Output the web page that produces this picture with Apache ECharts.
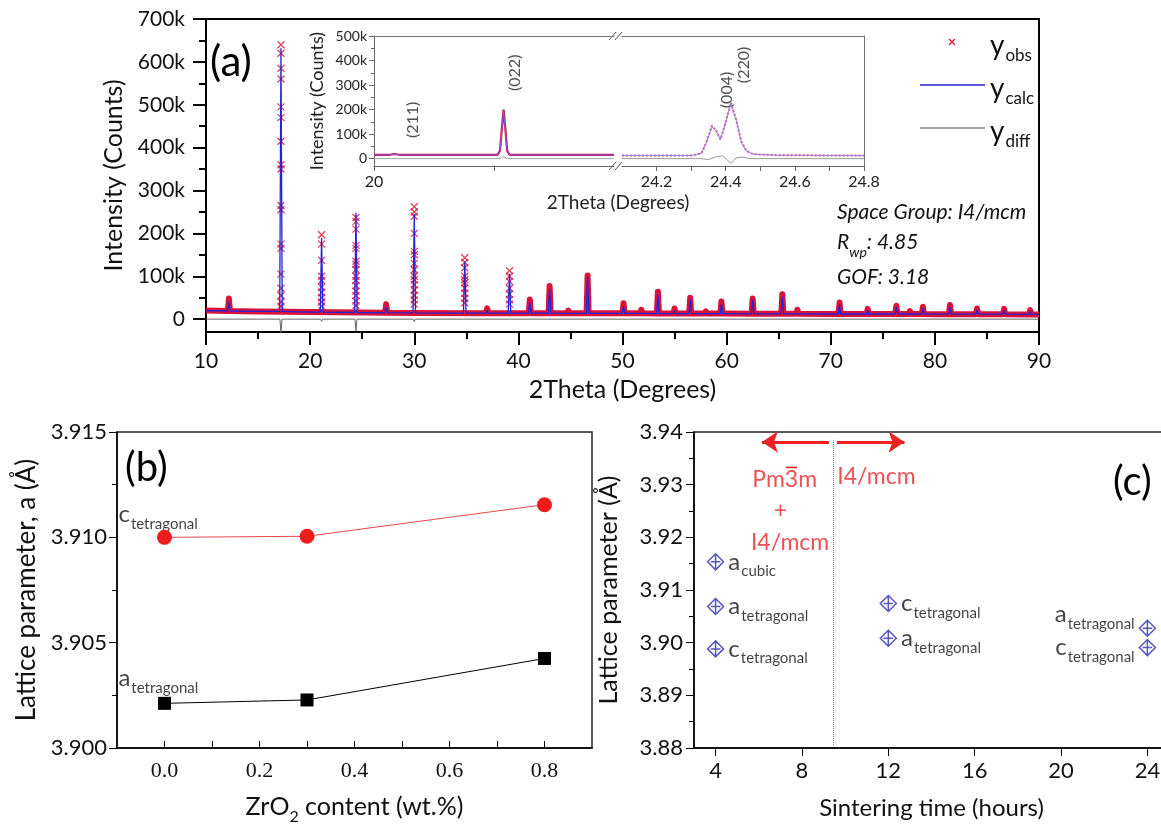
<!DOCTYPE html>
<html><head><meta charset="utf-8">
<script src="https://cdn.jsdelivr.net/npm/echarts@6/dist/echarts.min.js"></script>
<style>html,body{margin:0;padding:0;background:#fff}#c{width:1161px;height:829px}</style>
</head><body><div id="c"></div>
<script>
// ---------------- Panel (a): XRD pattern ----------------
const bgX = [10, 15, 20, 30, 40, 50, 60, 70, 80, 90];
const bgY = [20000, 18000, 16500, 14500, 14000, 13500, 13000, 12000, 11500, 11000];
// small peaks (dense obs band)
const smallPos  = [12.2, 27.3, 37.0, 41.1, 43.0, 44.8, 46.65, 50.1, 51.8, 53.4, 55.0, 56.5, 58.0, 59.5, 62.5, 65.35, 66.8, 70.85, 73.55, 76.3, 77.6, 78.85, 81.45, 84.05, 86.65, 89.15];
const smallTop  = [48000, 35000, 25000, 46000, 77000, 20000, 102000, 37000, 22000, 64000, 25000, 50000, 18000, 41000, 48000, 58000, 22000, 39000, 24000, 31000, 19000, 29000, 33000, 25000, 24000, 21000];
const smallCalc = [40000, 28000, 20000, 40000, 70000, 16000, 98000, 30000, 17000, 58000, 20000, 45000, 15000, 35000, 44000, 52000, 17000, 34000, 20000, 27000, 15000, 25000, 28000, 21000, 20000, 18000];
const smallBase = [19000, 15000, 14000, 14000, 14000, 13500, 13500, 13500, 13500, 13000, 13000, 13000, 13000, 13000, 12500, 12500, 12500, 12000, 12000, 12000, 12000, 12000, 11500, 11500, 11500, 11000];
// strong peaks
const tallPos  = [17.2, 21.1, 24.4, 30.0, 34.85, 39.15];
const tallBase = [18000, 16500, 15500, 14500, 14000, 14000];
const tallCalc = [632000, 190000, 248000, 245000, 135000, 105000];
const tallObs = [
  [640000, 620000, 585000, 560000, 495000, 470000, 415000, 360000, 350000, 265000, 255000, 175000, 165000, 105000, 72000, 55000, 40000, 30000],
  [197000, 175000, 137000, 100000, 90000, 75000, 62000, 50000, 40000, 30000],
  [237000, 228000, 210000, 172000, 165000, 135000, 128000, 115000, 100000, 90000, 78000, 65000, 55000, 42000, 32000],
  [262000, 250000, 240000, 200000, 158000, 150000, 130000, 115000, 100000, 92000, 80000, 68000, 55000, 45000, 35000],
  [143000, 132000, 120000, 100000, 92000, 85000, 72000, 60000, 48000, 38000],
  [113000, 100000, 88000, 72000, 58000, 45000, 35000]
];
// difference curve
const diffPos = [12.2, 17.2, 21.1, 24.4, 30.0, 34.85, 39.15, 46.65, 53.4];
const diffVal = [-3000, -32000, -5000, -28000, -6000, -4000, -3000, -3000, -2000];
const yTicksA = [0, 100000, 200000, 300000, 400000, 500000, 600000, 700000];
const yMinorA = [50000, 150000, 250000, 350000, 450000, 550000, 650000];

// ---------------- Inset ----------------
const inLObs  = [[20.0,15000],[20.12,15000],[20.17,19000],[20.22,15000],[21.03,15000],[21.05,32000],[21.065,120000],[21.08,200000],[21.095,120000],[21.11,32000],[21.13,15000],[22.0,15000]];
const inLCalc = [[20.0,15000],[20.12,15000],[20.17,18000],[20.22,15000],[21.03,15000],[21.05,30000],[21.065,115000],[21.08,195000],[21.095,115000],[21.11,30000],[21.13,15000],[22.0,15000]];
const inLDiff = [[20.0,0],[21.05,0],[21.08,8000],[21.11,0],[22.0,0]];
const inRObs  = [[24.1,12500],[24.30,13000],[24.33,22000],[24.345,70000],[24.36,135000],[24.372,115000],[24.385,78000],[24.398,140000],[24.415,228000],[24.43,160000],[24.445,70000],[24.46,32000],[24.48,18000],[24.55,14000],[24.7,13000],[24.8,12500]];
const inRCalc = [[24.1,12500],[24.30,13000],[24.33,22000],[24.345,68000],[24.36,130000],[24.372,112000],[24.385,80000],[24.398,138000],[24.415,225000],[24.43,158000],[24.445,68000],[24.46,30000],[24.48,18000],[24.55,14000],[24.7,13000],[24.8,12500]];
const inRDiff = [[24.1,0],[24.33,0],[24.35,-4000],[24.37,6000],[24.39,12000],[24.405,-5000],[24.415,-20000],[24.43,3000],[24.45,6000],[24.47,0],[24.8,0]];
const inYTicks = [0, 100000, 200000, 300000, 400000, 500000];
const inYMinor = [50000, 150000, 250000, 350000, 450000];
const inPeakNames = ['(211)', '(022)', '(004)', '(220)'];
const inPeakX = [20.32, 21.17, 24.404, 24.453];
const inPeakY = [158000, 350000, 280000, 382000];

// ---------------- Panel (b) ----------------
const bX = [0.0, 0.3, 0.8];
const bC = [3.9100, 3.91005, 3.91155];
const bA = [3.90212, 3.90228, 3.90425];
const bXTicks = [0, 0.1, 0.2, 0.3, 0.4, 0.5, 0.6, 0.7, 0.8];
const bXLabels = [0, 0.2, 0.4, 0.6, 0.8];

// ---------------- Panel (c) ----------------
const cX = [4, 4, 4, 12, 12, 24, 24];
const cY = [3.91535, 3.90686, 3.89882, 3.90743, 3.90084, 3.90274, 3.89907];
const cMain = ['a', 'a', 'c', 'c', 'a', 'a', 'c'];
const cSub = ['cubic', 'tetragonal', 'tetragonal', 'tetragonal', 'tetragonal', 'tetragonal', 'tetragonal'];
const cXTicks = [4, 8, 12, 16, 20, 24];
const redTxt = ['Pm3m', '+', 'I4/mcm', 'I4/mcm'];
const redX = [7.2, 7.0, 7.45, 11.45];
const redY = [3.931, 3.925, 3.919, 3.9315];

// ---------------- build ----------------
const F = 'Lato, "Open Sans", sans-serif';
const kfmt = v => v === 0 ? '0' : (v / 1000) + 'k';

const bandData = bgX.map((x, i) => [x, bgY[i]]);
smallPos.forEach((p, i) => { bandData.push([p - 0.1, smallBase[i]], [p, smallTop[i]], [p + 0.1, smallBase[i]]); });
bandData.sort((a, b) => a[0] - b[0]);
const calcData = bgX.map((x, i) => [x, bgY[i]]);
smallPos.forEach((p, i) => { calcData.push([p - 0.12, smallBase[i]], [p, smallCalc[i]], [p + 0.12, smallBase[i]]); });
tallPos.forEach((p, i) => { calcData.push([p - 0.12, tallBase[i]], [p, tallCalc[i]], [p + 0.12, tallBase[i]]); });
calcData.sort((a, b) => a[0] - b[0]);
const obsData = [];
tallPos.forEach((p, i) => tallObs[i].forEach(v => obsData.push([p, v])));
const diffData = [[10, 0]];
diffPos.forEach((p, i) => diffData.push([p - 0.1, 0], [p, diffVal[i]], [p + 0.1, 0]));
diffData.push([90, 0]);

const X_PATH = 'path://M0,0L10,10M10,0L0,10';
const DIAMOND = 'path://M0,-10L10,0L0,10L-10,0Z M0,-10L0,10 M-6,0L6,0';
const black = '#111';
const noSplit = { show: false };

function ax(o) { return Object.assign({ type: 'value', splitLine: noSplit, minorSplitLine: noSplit, axisLine: { show: true, onZero: false, lineStyle: { color: '#000', width: 1.5 } } }, o); }

const cRich = {
  m: { fontSize: 24, lineHeight: 24, fontFamily: F, color: '#111', verticalAlign: 'top' },
  s: { fontSize: 15, lineHeight: 15, fontFamily: F, color: '#111', verticalAlign: 'top', padding: [14, 0, 0, 1] }
};
const legRich = {
  m: { fontSize: 28, lineHeight: 28, fontFamily: F, fill: '#111', verticalAlign: 'top' },
  s: { fontSize: 17, lineHeight: 17, fontFamily: F, fill: '#111', verticalAlign: 'top', padding: [15, 0, 0, 1] }
};
const itRich = {
  m: { fontSize: 21, lineHeight: 21, fontFamily: F, fontStyle: 'italic', fill: '#111', verticalAlign: 'top' },
  s: { fontSize: 14, lineHeight: 14, fontFamily: F, fontStyle: 'italic', fill: '#111', verticalAlign: 'top', padding: [13, 0, 0, 0] }
};
const arrowStyle = { color: '#ee2222', width: 3, type: 'solid' };

const option = {
  animation: false,
  backgroundColor: '#fff',
  grid: [
    { left: 206, top: 19, width: 833, height: 313, show: true, borderColor: '#000', borderWidth: 2, outerBoundsMode: 'none' },
    { left: 374, top: 36, width: 240, height: 130, outerBoundsMode: 'none' },
    { left: 622, top: 36, width: 242, height: 130, outerBoundsMode: 'none' },
    { left: 117, top: 432, width: 475, height: 316, show: true, borderColor: '#222', borderWidth: 1.5, outerBoundsMode: 'none' },
    { left: 694, top: 432, width: 475, height: 316, show: true, borderColor: '#222', borderWidth: 1.5, outerBoundsMode: 'none' }
  ],
  xAxis: [
    ax({ gridIndex: 0, min: 10, max: 90, interval: 10,
      axisLine: { show: true, onZero: false, lineStyle: { color: '#000', width: 2 } },
      axisTick: { show: true, length: 13, lineStyle: { color: '#000', width: 2 } },
      minorTick: { show: true, splitNumber: 2, length: 7, lineStyle: { color: '#000', width: 2 } },
      axisLabel: { fontSize: 21, fontFamily: F, color: black, margin: 19 },
      name: '2Theta (Degrees)', nameLocation: 'middle', nameGap: 45, nameTextStyle: { fontSize: 25, fontFamily: F, color: black } }),
    ax({ gridIndex: 1, min: 20, max: 22, axisLine: { show: true, onZero: false, lineStyle: { color: '#666', width: 1 } },
      axisTick: { show: true, customValues: [20, 21], length: 5, lineStyle: { color: '#666' } },
      axisLabel: { customValues: [20], fontSize: 16, fontFamily: F, color: '#222', margin: 8 } }),
    ax({ gridIndex: 1, min: 20, max: 22, position: 'top', axisLine: { show: true, onZero: false, lineStyle: { color: '#777', width: 1 } },
      axisTick: { show: false }, axisLabel: { show: false } }),
    ax({ gridIndex: 2, min: 24.1, max: 24.8, axisLine: { show: true, onZero: false, lineStyle: { color: '#666', width: 1 } },
      axisTick: { show: true, customValues: [24.2, 24.3, 24.4, 24.5, 24.6, 24.7, 24.8], length: 5, lineStyle: { color: '#666' } },
      axisLabel: { customValues: [24.2, 24.4, 24.6, 24.8], formatter: v => v.toFixed(1), fontSize: 16, fontFamily: F, color: '#222', margin: 8 } }),
    ax({ gridIndex: 2, min: 24.1, max: 24.8, position: 'top', axisLine: { show: true, onZero: false, lineStyle: { color: '#777', width: 1 } },
      axisTick: { show: false }, axisLabel: { show: false } }),
    ax({ gridIndex: 3, min: -0.1, max: 0.9,
      axisTick: { show: true, inside: true, customValues: bXTicks, length: 7, lineStyle: { color: '#000' } },
      axisLabel: { customValues: bXLabels, formatter: v => v.toFixed(1), fontSize: 22, fontFamily: '"Liberation Serif", serif', color: black, margin: 12 },
      name: '{m|ZrO}{s|2}{m| content (wt.%)}', nameLocation: 'middle', nameGap: 46,
      nameTextStyle: { rich: { m: { fontSize: 25, fontFamily: F, color: black, verticalAlign: 'top', lineHeight: 25 }, s: { fontSize: 16, fontFamily: F, color: black, verticalAlign: 'top', padding: [15, 0, 0, 0] } } } }),
    ax({ gridIndex: 4, min: 3, max: 25,
      axisTick: { show: true, customValues: cXTicks, length: 8, lineStyle: { color: '#000' } },
      axisLabel: { customValues: cXTicks, fontSize: 22, fontFamily: F, color: black, margin: 12 },
      name: 'Sintering time (hours)', nameLocation: 'middle', nameGap: 48, nameTextStyle: { fontSize: 24, fontFamily: F, color: black } })
  ],
  yAxis: [
    ax({ gridIndex: 0, min: -30000, max: 700000, position: 'left',
      axisLine: { show: true, onZero: false, lineStyle: { color: '#000', width: 2 } },
      axisTick: { show: true, customValues: yTicksA, length: 13, lineStyle: { color: '#000', width: 2 } },
      axisLabel: { customValues: yTicksA, formatter: kfmt, fontSize: 21, fontFamily: F, color: black, margin: 21 },
      name: 'Intensity (Counts)', nameLocation: 'middle', nameGap: 80, nameTextStyle: { fontSize: 25, fontFamily: F, color: black } }),
    ax({ gridIndex: 0, min: -30000, max: 700000, position: 'left', axisLine: { show: false, onZero: false },
      axisTick: { show: true, customValues: yMinorA, length: 7, lineStyle: { color: '#000', width: 2 } }, axisLabel: { show: false } }),
    ax({ gridIndex: 1, min: -30000, max: 500000, position: 'left', axisLine: { show: true, onZero: false, lineStyle: { color: '#666', width: 1 } },
      axisTick: { show: true, customValues: inYTicks, length: 5, lineStyle: { color: '#666' } },
      axisLabel: { customValues: inYTicks, formatter: kfmt, fontSize: 14, fontFamily: F, color: '#222', margin: 7 },
      name: 'Intensity (Counts)', nameLocation: 'middle', nameGap: 48, nameTextStyle: { fontSize: 18, fontFamily: F, color: '#222' } }),
    ax({ gridIndex: 1, min: -30000, max: 500000, position: 'left', axisLine: { show: false, onZero: false },
      axisTick: { show: true, customValues: inYMinor, length: 3, lineStyle: { color: '#666' } }, axisLabel: { show: false } }),
    ax({ gridIndex: 2, min: -30000, max: 500000, position: 'right', axisLine: { show: true, onZero: false, lineStyle: { color: '#777', width: 1 } },
      axisTick: { show: false }, axisLabel: { show: false } }),
    ax({ gridIndex: 3, min: 3.900, max: 3.915, interval: 0.005, position: 'left',
      axisTick: { show: true, length: 8, lineStyle: { color: '#000' } },
      minorTick: { show: true, splitNumber: 2, length: 5, lineStyle: { color: '#000' } },
      axisLabel: { formatter: v => v.toFixed(3), fontSize: 22, fontFamily: F, color: black, margin: 10 },
      name: 'Lattice parameter, a (Å)', nameLocation: 'middle', nameGap: 77, nameTextStyle: { fontSize: 26, fontFamily: F, color: black } }),
    ax({ gridIndex: 4, min: 3.88, max: 3.94, interval: 0.01, position: 'left',
      axisTick: { show: true, length: 8, lineStyle: { color: '#000' } },
      minorTick: { show: true, splitNumber: 2, length: 5, lineStyle: { color: '#000' } },
      axisLabel: { formatter: v => v.toFixed(2), fontSize: 22, fontFamily: F, color: black, margin: 11 },
      name: 'Lattice parameter (Å)', nameLocation: 'middle', nameGap: 73, nameTextStyle: { fontSize: 25, fontFamily: F, color: black } })
  ],
  series: [
    // panel (a)
    { name: 'ydiff', type: 'line', xAxisIndex: 0, yAxisIndex: 0, data: diffData, showSymbol: false, symbol: 'none', z: 2,
      lineStyle: { color: '#666', width: 1 } },
    { name: 'band', type: 'line', xAxisIndex: 0, yAxisIndex: 0, data: bandData, symbol: 'none', z: 3,
      lineStyle: { color: '#d9123a', width: 6, join: 'round' } },
    { name: 'yobs', type: 'scatter', xAxisIndex: 0, yAxisIndex: 0, data: obsData, symbol: X_PATH, symbolSize: 7, z: 4,
      itemStyle: { color: 'rgba(0,0,0,0)', borderColor: '#e0102e', borderWidth: 1.3 } },
    { name: 'ycalc', type: 'line', xAxisIndex: 0, yAxisIndex: 0, data: calcData, symbol: 'none', z: 5,
      lineStyle: { color: '#2323d8', width: 1.3 } },
    // inset left
    { type: 'line', xAxisIndex: 1, yAxisIndex: 2, data: inLDiff, symbol: 'none', lineStyle: { color: '#9aa', width: 1 } },
    { type: 'line', xAxisIndex: 1, yAxisIndex: 2, data: inLObs, symbol: 'none', lineStyle: { color: '#c81445', width: 2.2 } },
    { type: 'line', xAxisIndex: 1, yAxisIndex: 2, data: inLCalc, symbol: 'none', lineStyle: { color: '#8a5bd6', width: 1 } },
    // inset right
    { type: 'line', xAxisIndex: 3, yAxisIndex: 4, data: inRDiff, symbol: 'none', lineStyle: { color: '#999', width: 1 } },
    { type: 'line', xAxisIndex: 3, yAxisIndex: 4, data: inRObs, symbol: 'none', lineStyle: { color: '#e2568a', width: 2, type: 'dotted' } },
    { type: 'line', xAxisIndex: 3, yAxisIndex: 4, data: inRCalc, symbol: 'none', lineStyle: { color: '#a07ad8', width: 1 } },
    // inset peak labels
    { type: 'scatter', xAxisIndex: 1, yAxisIndex: 2, symbolSize: 0, silent: true,
      data: [0, 1].map(i => ({ name: inPeakNames[i], value: [inPeakX[i], inPeakY[i]] })),
      label: { show: true, position: 'inside', rotate: 90, formatter: p => p.name, fontSize: 16, fontFamily: F, color: '#222' } },
    { type: 'scatter', xAxisIndex: 3, yAxisIndex: 4, symbolSize: 0, silent: true,
      data: [2, 3].map(i => ({ name: inPeakNames[i], value: [inPeakX[i], inPeakY[i]] })),
      label: { show: true, position: 'inside', rotate: 90, formatter: p => p.name, fontSize: 16, fontFamily: F, color: '#222' } },
    // panel (b)
    { type: 'line', xAxisIndex: 5, yAxisIndex: 5, data: bX.map((x, i) => [x, bC[i]]), symbol: 'circle', symbolSize: 15,
      itemStyle: { color: '#ee1c1c' }, lineStyle: { color: '#e84848', width: 1 }, z: 3 },
    { type: 'line', xAxisIndex: 5, yAxisIndex: 5, data: bX.map((x, i) => [x, bA[i]]), symbol: 'rect', symbolSize: 13,
      itemStyle: { color: '#000' }, lineStyle: { color: '#000', width: 1 }, z: 3 },
    { type: 'scatter', xAxisIndex: 5, yAxisIndex: 5, symbolSize: 0, silent: true,
      data: [{ value: [-0.097, 3.9111], label: { formatter: '{m|c}{s|tetragonal}' } }, { value: [-0.097, 3.9033], label: { formatter: '{m|a}{s|tetragonal}' } }],
      label: { show: true, position: 'right', distance: 0, rich: cRich } },
    // panel (c)
    { type: 'scatter', xAxisIndex: 6, yAxisIndex: 6, symbol: DIAMOND, symbolSize: 16, z: 4,
      itemStyle: { color: '#fff', borderColor: '#2a2ab5', borderWidth: 1.5 },
      data: cX.map((x, i) => ({ value: [x, cY[i]], label: { show: true, position: i >= 5 ? 'left' : 'right', distance: 4,
        offset: i === 5 ? [0, -14] : [0, 0], formatter: '{m|' + cMain[i] + '}{s|' + cSub[i] + '}', rich: cRich } })),
      markLine: { silent: true, symbolSize: 16, label: { show: false }, lineStyle: arrowStyle,
        data: [
          [{ coord: [9.25, 3.9381], symbol: 'none' }, { coord: [6.15, 3.9381], symbol: 'arrow' }],
          [{ coord: [9.62, 3.9381], symbol: 'none' }, { coord: [12.75, 3.9381], symbol: 'arrow' }]
        ] } },
    { type: 'scatter', xAxisIndex: 6, yAxisIndex: 6, symbolSize: 0, silent: true,
      data: redTxt.map((t, i) => ({ name: t, value: [redX[i], redY[i]] })),
      label: { show: true, position: 'inside', formatter: p => p.name, fontSize: 23, fontFamily: 'Lato', color: '#e8262b' },
      markLine: { silent: true, symbol: 'none', label: { show: false }, lineStyle: { color: '#777', width: 1, type: 'dotted' },
        data: [[{ coord: [9.45, 3.9385] }, { coord: [9.45, 3.8805] }]] } }
  ],
  graphic: [
    { type: 'text', x: 210, y: 62, style: { text: '(a)', font: '42px Lato', fill: '#000', verticalAlign: 'middle' } },
    { type: 'text', x: 125, y: 468, style: { text: '(b)', font: '40px Lato', fill: '#000', verticalAlign: 'middle' } },
    { type: 'text', x: 1113, y: 482, style: { text: '(c)', font: '40px Lato', fill: '#000', verticalAlign: 'middle' } },
    // legend
    { type: 'line', shape: { x1: 949, y1: 39, x2: 955, y2: 45 }, style: { stroke: '#e0102e', lineWidth: 1.2 } },
    { type: 'line', shape: { x1: 955, y1: 39, x2: 949, y2: 45 }, style: { stroke: '#e0102e', lineWidth: 1.2 } },
    { type: 'line', shape: { x1: 920, y1: 85, x2: 985, y2: 85 }, style: { stroke: '#2323d8', lineWidth: 1.3 } },
    { type: 'line', shape: { x1: 920, y1: 128, x2: 985, y2: 128 }, style: { stroke: '#444', lineWidth: 1 } },
    { type: 'text', x: 990, y: 32, style: { text: '{m|y}{s|obs}', rich: legRich } },
    { type: 'text', x: 990, y: 75, style: { text: '{m|y}{s|calc}', rich: legRich } },
    { type: 'text', x: 990, y: 118, style: { text: '{m|y}{s|diff}', rich: legRich } },
    // refinement info
    { type: 'text', x: 837, y: 202, style: { text: '{m|Space Group: I4/mcm}', rich: itRich } },
    { type: 'text', x: 837, y: 232, style: { text: '{m|R}{s|wp}{m|: 4.85}', rich: itRich } },
    { type: 'text', x: 837, y: 267, style: { text: '{m|GOF: 3.18}', rich: itRich } },
    // inset x title
    { type: 'text', x: 618, y: 203, style: { text: '2Theta (Degrees)', font: '19px Lato', fill: '#222', align: 'center', verticalAlign: 'middle' } },
    // axis break marks
    { type: 'line', shape: { x1: 609, y1: 40, x2: 616, y2: 32 }, style: { stroke: '#555', lineWidth: 1 } },
    { type: 'line', shape: { x1: 615, y1: 40, x2: 622, y2: 32 }, style: { stroke: '#555', lineWidth: 1 } },
    { type: 'line', shape: { x1: 609, y1: 170, x2: 616, y2: 162 }, style: { stroke: '#555', lineWidth: 1 } },
    { type: 'line', shape: { x1: 615, y1: 170, x2: 622, y2: 162 }, style: { stroke: '#555', lineWidth: 1 } }
  ]
};
const chart = echarts.init(document.getElementById('c'));
chart.setOption(option);

// overbar on the "3" of Pm-3m (space-group notation)
(function () {
  const ctx = document.createElement('canvas').getContext('2d');
  ctx.font = '23px Lato';
  const t = redTxt[0];
  const p = chart.convertToPixel({ xAxisIndex: 6, yAxisIndex: 6 }, [redX[0], redY[0]]);
  const w = ctx.measureText(t).width;
  const x0 = p[0] - w / 2 + ctx.measureText(t.slice(0, 2)).width;
  const x1 = p[0] - w / 2 + ctx.measureText(t.slice(0, 3)).width;
  chart.setOption({ graphic: [{ id: 'bar3', type: 'line', shape: { x1: x0 + 1, y1: p[1] - 12, x2: x1 - 1, y2: p[1] - 12 }, style: { stroke: '#e8262b', lineWidth: 1.6 } }] });
})();
</script></body></html>
